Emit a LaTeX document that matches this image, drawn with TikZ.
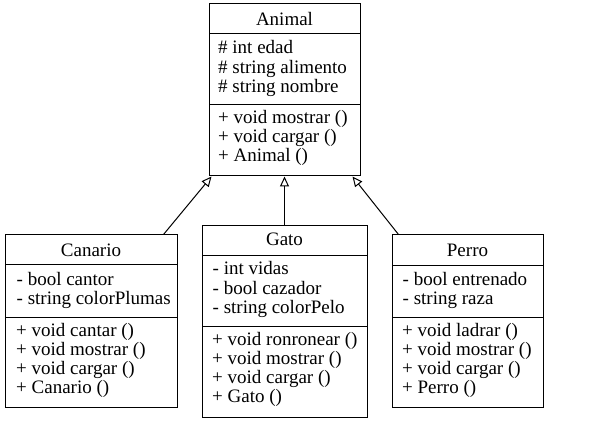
\documentclass[tikz,border=0pt]{standalone}
\usepackage{fontspec}
\setmainfont{Liberation Serif}
\usetikzlibrary{arrows.meta}
\tikzset{
  box/.style={draw=black, line width=1pt, fill=white, inner sep=0pt},
  sep/.style={draw=black, line width=1pt},
  txt/.style={anchor=base west, inner sep=0pt, font=\fontsize{19}{20}\selectfont},
  ttl/.style={anchor=base, inner sep=0pt, font=\fontsize{19}{20}\selectfont},
  inh/.style={draw=black, line width=1pt, -{Triangle[open, length=10pt, width=9pt, fill=white]}},
}
\begin{document}
\begin{tikzpicture}[x=1pt, y=-1pt]
\useasboundingbox[fill=white] (0,0) rectangle (594,438);
% Animal
\node[box, minimum width=151pt, minimum height=172pt] (animal) at (284.5,90) {};
\draw[sep] (209,34) -- (360,34);
\draw[sep] (209,105) -- (360,105);
\node[ttl] (animalT) at (284.5,26) {Animal};
\node[txt] (a1) at (218,54) {\# int edad};
\node[txt] (a2) at (218,73.3) {\# string alimento};
\node[txt] (a3) at (218,92.6) {\# string nombre};
\node[txt] (a4) at (218,123.5) {+ void mostrar ()};
\node[txt] (a5) at (218,142.5) {+ void cargar ()};
\node[txt] (a6) at (218,161.5) {+ Animal ()};
% Canario
\node[box, minimum width=172pt, minimum height=172pt] (canario) at (91,321) {};
\draw[sep] (5,265) -- (177,265);
\draw[sep] (5,317.5) -- (177,317.5);
\node[ttl] (canarioT) at (91,256.5) {Canario};
\node[txt] (c1) at (16.5,285) {- bool cantor};
\node[txt] (c2) at (16.5,304) {- string colorPlumas};
\node[txt] (c3) at (16,336) {+ void cantar ()};
\node[txt] (c4) at (16,355) {+ void mostrar ()};
\node[txt] (c5) at (16,374) {+ void cargar ()};
\node[txt] (c6) at (16,393.3) {+ Canario ()};
% Gato
\node[box, minimum width=165pt, minimum height=191pt] (gato) at (284.5,321.5) {};
\draw[sep] (202,256) -- (367,256);
\draw[sep] (202,326) -- (367,326);
\node[ttl] (gatoT) at (284.5,246) {Gato};
\node[txt] (g1) at (212.5,275) {- int vidas};
\node[txt] (g2) at (212.5,294.3) {- bool cazador};
\node[txt] (g3) at (212.5,313.3) {- string colorPelo};
\node[txt] (g4) at (212,345) {+ void ronronear ()};
\node[txt] (g5) at (212,364) {+ void mostrar ()};
\node[txt] (g6) at (212,383) {+ void cargar ()};
\node[txt] (g7) at (212,402.3) {+ Gato ()};
% Perro
\node[box, minimum width=151pt, minimum height=172pt] (perro) at (467.5,321) {};
\draw[sep] (392,265.5) -- (543,265.5);
\draw[sep] (392,317.5) -- (543,317.5);
\node[ttl] (perroT) at (467.5,256.5) {Perro};
\node[txt] (p1) at (402.5,285) {- bool entrenado};
\node[txt] (p2) at (402.5,304) {- string raza};
\node[txt] (p3) at (402,336) {+ void ladrar ()};
\node[txt] (p4) at (402,355) {+ void mostrar ()};
\node[txt] (p5) at (402,374) {+ void cargar ()};
\node[txt] (p6) at (402,393.3) {+ Perro ()};
% inheritance
\coordinate (cs) at ([xshift=-14pt]canario.north east);
\coordinate (ct) at ([xshift=3pt]animal.south west);
\coordinate (ps) at ([xshift=7pt]perro.north west);
\coordinate (pt) at ([xshift=-8pt]animal.south east);
\draw[inh] (cs) -- (ct);
\draw[inh] (gato.north) -- (animal.south);
\draw[inh] (ps) -- (pt);
\end{tikzpicture}
\end{document}
